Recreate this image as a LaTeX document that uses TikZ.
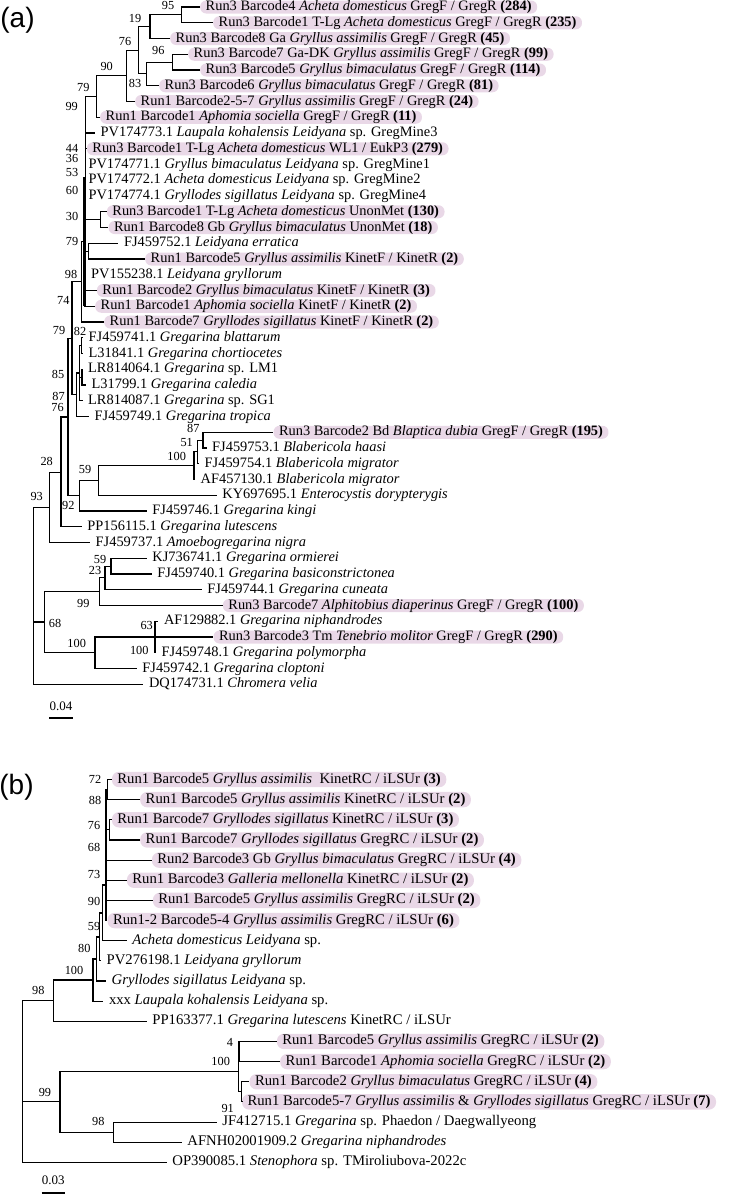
\documentclass[tikz,border=0pt]{standalone}
\usepackage{fontspec}
\setmainfont{Liberation Serif}
\newfontfamily\panelfont{Liberation Sans}
\usepackage{tikz}
\definecolor{hlpink}{RGB}{233,216,231}

\begin{document}
\begin{tikzpicture}[x=1pt,y=-1pt,
  branch/.style={line width=1.1pt},
  comb/.style={line width=2.6pt},
  leaf/.style={anchor=west,inner xsep=5.5pt,inner ysep=0pt,text height=10pt,text depth=3pt,font=\fontsize{14.4}{16}\selectfont},
  hl/.style={leaf,fill=hlpink,rounded corners=6pt},
  leafb/.style={leaf,inner ysep=0.6pt,text height=10.6pt,text depth=3.6pt,font=\fontsize{14.7}{17}\selectfont},
  hlb/.style={leafb,fill=hlpink,rounded corners=7pt},
  bs/.style={inner sep=0pt,font=\fontsize{12.3}{13}\selectfont},
  scl/.style={inner sep=0pt,font=\fontsize{13}{14}\selectfont},
  panel/.style={inner sep=0pt,font=\panelfont\fontsize{28}{30}\selectfont}]
  \useasboundingbox (0,0) rectangle (734,1195);

  \node[panel] (pa) at (17.5,20) {(a)};
  \node[panel] (pb) at (16.5,787) {(b)};

  \node[hl] (a1) at (200,7) {Run3 Barcode4 \textit{Acheta domesticus} GregF / GregR \textbf{(284)}};
  \node[hl] (a2) at (213,22.75) {Run3 Barcode1 T-Lg \textit{Acheta domesticus} GregF / GregR \textbf{(235)}};
  \node[hl] (a3) at (170,38.5) {Run3 Barcode8 Ga \textit{Gryllus assimilis} GregF / GregR \textbf{(45)}};
  \node[hl] (a4) at (188,54.25) {Run3 Barcode7 Ga-DK \textit{Gryllus assimilis} GregF / GregR \textbf{(99)}};
  \node[hl] (a5) at (200,70) {Run3 Barcode5 \textit{Gryllus bimaculatus} GregF / GregR \textbf{(114)}};
  \node[hl] (a6) at (159,85.75) {Run3 Barcode6 \textit{Gryllus bimaculatus} GregF / GregR \textbf{(81)}};
  \node[hl] (a7) at (135,101.5) {Run1 Barcode2-5-7 \textit{Gryllus assimilis} GregF / GregR \textbf{(24)}};
  \node[hl] (a8) at (100,117.25) {Run1 Barcode1 \textit{Aphomia sociella} GregF / GregR \textbf{(11)}};
  \node[leaf] (a9) at (95,133) {PV174773.1 \textit{Laupala kohalensis Leidyana} sp. GregMine3};
  \node[hl] (a10) at (86.7,148.75) {Run3 Barcode1 T-Lg \textit{Acheta domesticus} WL1 / EukP3 \textbf{(279)}};
  \node[leaf,inner xsep=2.6pt] (a11) at (85.7,164.5) {PV174771.1 \textit{Gryllus bimaculatus Leidyana} sp. GregMine1};
  \node[leaf,inner xsep=2.6pt] (a12) at (85.7,180.25) {PV174772.1 \textit{Acheta domesticus Leidyana} sp. GregMine2};
  \node[leaf,inner xsep=2.6pt] (a13) at (85.7,196) {PV174774.1 \textit{Gryllodes sigillatus Leidyana} sp. GregMine4};
  \node[hl] (a14) at (106.7,211.75) {Run3 Barcode1 T-Lg \textit{Acheta domesticus} UnonMet \textbf{(130)}};
  \node[hl] (a15) at (108.3,227.5) {Run1 Barcode8 Gb \textit{Gryllus bimaculatus} UnonMet \textbf{(18)}};
  \node[leaf] (a16) at (118.3,243.25) {FJ459752.1 \textit{Leidyana erratica}};
  \node[hl] (a17) at (145,259) {Run1 Barcode5 \textit{Gryllus assimilis} KinetF / KinetR \textbf{(2)}};
  \node[leaf] (a18) at (85.5,274.75) {PV155238.1 \textit{Leidyana gryllorum}};
  \node[hl] (a19) at (96.7,290.5) {Run1 Barcode2 \textit{Gryllus bimaculatus} KinetF / KinetR \textbf{(3)}};
  \node[hl] (a20) at (95,306.25) {Run1 Barcode1 \textit{Aphomia sociella} KinetF / KinetR \textbf{(2)}};
  \node[hl] (a21) at (104,322) {Run1 Barcode7 \textit{Gryllodes sigillatus} KinetF / KinetR \textbf{(2)}};
  \node[leaf] (a22) at (83,337.75) {FJ459741.1 \textit{Gregarina blattarum}};
  \node[leaf] (a23) at (83,353.5) {L31841.1 \textit{Gregarina chortiocetes}};
  \node[leaf] (a24) at (82.5,369.25) {LR814064.1 \textit{Gregarina} sp. LM1};
  \node[leaf] (a25) at (86,385) {L31799.1 \textit{Gregarina caledia}};
  \node[leaf] (a26) at (82.5,400.75) {LR814087.1 \textit{Gregarina} sp. SG1};
  \node[leaf] (a27) at (89,416.5) {FJ459749.1 \textit{Gregarina tropica}};
  \node[hl] (a28) at (273.3,432.25) {Run3 Barcode2 Bd \textit{Blaptica dubia} GregF / GregR \textbf{(195)}};
  \node[leaf] (a29) at (206.5,448) {FJ459753.1 \textit{Blabericola haasi}};
  \node[leaf] (a30) at (199,463.75) {FJ459754.1 \textit{Blabericola migrator}};
  \node[leaf] (a31) at (195,479.5) {AF457130.1 \textit{Blabericola migrator}};
  \node[leaf] (a32) at (216.7,495.25) {KY697695.1 \textit{Enterocystis dorypterygis}};
  \node[leaf] (a33) at (146.7,511) {FJ459746.1 \textit{Gregarina kingi}};
  \node[leaf] (a34) at (81.7,526.75) {PP156115.1 \textit{Gregarina lutescens}};
  \node[leaf] (a35) at (90,542.5) {FJ459737.1 \textit{Amoebogregarina nigra}};
  \node[leaf] (a36) at (146.7,558.25) {KJ736741.1 \textit{Gregarina ormierei}};
  \node[leaf] (a37) at (151.7,574) {FJ459740.1 \textit{Gregarina basiconstrictonea}};
  \node[leaf] (a38) at (201.7,589.75) {FJ459744.1 \textit{Gregarina cuneata}};
  \node[hl] (a39) at (222.7,605.5) {Run3 Barcode7 \textit{Alphitobius diaperinus} GregF / GregR \textbf{(100)}};
  \node[leaf] (a40) at (158.3,621.25) {AF129882.1 \textit{Gregarina niphandrodes}};
  \node[hl] (a41) at (213.3,637) {Run3 Barcode3 Tm \textit{Tenebrio molitor} GregF / GregR \textbf{(290)}};
  \node[leaf] (a42) at (156,652.75) {FJ459748.1 \textit{Gregarina polymorpha}};
  \node[leaf] (a43) at (136.7,668.5) {FJ459742.1 \textit{Gregarina cloptoni}};
  \node[leaf] (a44) at (143.3,684.25) {DQ174731.1 \textit{Chromera velia}};

  \coordinate (n95) at (181.7,14.9);
  \coordinate (n19) at (150,26.7);
  \coordinate (n96) at (172.7,62.1);
  \coordinate (n83) at (146.7,73.9);
  \coordinate (n76) at (138.3,50.3);
  \coordinate (n90) at (126.7,75.9);
  \coordinate (n79a) at (96.7,96.6);
  \coordinate (n99) at (85.7,114.8);
  \coordinate (n30) at (100.7,219.6);
  \coordinate (n79b) at (88.3,251.1);
  \coordinate (n1920) at (85,298.4);
  \coordinate (nL) at (85.2,241.4);
  \coordinate (n98) at (81.7,281.7);
  \coordinate (g82) at (81.7,345.6);
  \coordinate (gsub) at (82,377.1);
  \coordinate (g85) at (79.5,373);
  \coordinate (g87) at (76.7,394.8);
  \coordinate (nA) at (72,338.2);
  \coordinate (n87) at (203,440.1);
  \coordinate (n51) at (197.5,451.9);
  \coordinate (n100b) at (194,465.7);
  \coordinate (n59) at (98.3,480.5);
  \coordinate (n92) at (79.3,495.7);
  \coordinate (nX) at (68,417);
  \coordinate (n28) at (61,472.3);
  \coordinate (n93) at (49.3,507.2);
  \coordinate (root) at (33.3,600);
  \coordinate (n68) at (44.3,622);
  \coordinate (n99c) at (99.3,591.7);
  \coordinate (n23) at (105,577.9);
  \coordinate (n59b) at (111,566.1);
  \coordinate (n100c) at (95,652.75);
  \coordinate (n100d) at (155,637);
  \coordinate (cb1) at (84,177);
  \coordinate (cb2) at (84,306);

  \draw[branch] (n95) |- (a1.west) (n95) |- (a2.west);
  \draw[branch] (n19) |- (n95) (n19) |- (a3.west);
  \draw[branch] (n96) |- (a4.west) (n96) |- (a5.west);
  \draw[branch] (n83) |- (n96) (n83) |- (a6.west);
  \draw[branch] (n76) |- (n19) (n76) |- (n83);
  \draw[branch] (n90) |- (n76) (n90) |- (a7.west);
  \draw[branch] (n79a) |- (n90) (n79a) |- (a8.west);
  \draw[branch] (n99) |- (n79a) (n99) |- (a9.west);
  \draw[branch] (n30) |- (a14.west) (n30) |- (a15.west);
  \draw[branch] (n79b) |- (a16.west) (n79b) |- (a17.west);
  \draw[branch] (n1920) |- (a19.west) (n1920) |- (a20.west);
  \draw[branch] (nL) |- (n99) (nL) |- (a10.west) (nL) |- (a11.west) (nL) |- (a12.west) (nL) |- (a13.west);
  \draw[branch] (nL) |- (n30) (nL) |- (n79b) (nL) |- (a18.west) (nL) |- (n1920);
  \draw[comb] (cb1) -- (cb2);
  \draw[branch] (n98) |- (nL) (n98) |- (a21.west);
  \draw[branch] (g82) |- (a22.west) (g82) |- (a23.west);
  \draw[branch] (gsub) |- (a24.west) (gsub) |- (a25.west);
  \draw[branch] (g85) |- (g82) (g85) |- (gsub) (g85) |- (a26.west);
  \draw[branch] (g87) |- (g85) (g87) |- (a27.west);
  \draw[branch] (nA) |- (n98) (nA) |- (g87);
  \draw[branch] (n87) |- (a28.west) (n87) |- (a29.west);
  \draw[branch] (n51) |- (n87) (n51) |- (a30.west);
  \draw[branch] (n100b) |- (n51) (n100b) |- (a31.west);
  \draw[branch] (n59) |- (n100b) (n59) |- (a32.west);
  \draw[branch] (n92) |- (n59) (n92) |- (a33.west);
  \draw[branch] (nX) |- (nA) (nX) |- (n92);
  \draw[branch] (n28) |- (nX) (n28) |- (a34.west);
  \draw[branch] (n93) |- (n28) (n93) |- (a35.west);
  \draw[branch] (root) |- (n93) (root) |- (n68) (root) |- (a44.west);
  \draw[branch] (n68) |- (n99c) (n68) |- (n100c);
  \draw[branch] (n99c) |- (n23) (n99c) |- (a39.west);
  \draw[branch] (n23) |- (n59b) (n23) |- (a38.west);
  \draw[branch] (n59b) |- (a36.west) (n59b) |- (a37.west);
  \draw[branch] (n100c) |- (n100d) (n100c) |- (a43.west);
  \draw[branch] (n100d) |- (a40.west) (n100d) |- (a41.west) (n100d) |- (a42.west);

  \foreach \x/\y/\v [count=\i] in {168/5/95, 135/18/19, 125/41.7/76, 158.3/50/96, 106.7/66.7/90,
      135/83.3/83, 83.3/87.3/79, 71.7/106/99, 72/148.3/44, 72/158.3/36, 72/172.7/53, 72/190/60,
      72/216/30, 72/241.7/79, 71/274/98, 63.3/300/74, 59/330/79, 80/331/82, 58/374/85,
      58.5/396/87, 57.5/407.5/76, 193.3/428.3/87, 186.7/442.7/51, 176.7/456.7/100,
      46.7/461.7/28, 85/469.3/59, 36.7/496.7/93, 68.3/505/92, 100/559.8/59, 95/570.8/23,
      83.3/603.3/99, 55/623.3/68, 146.7/625/63, 76.7/643.3/100, 139.3/650/100}
    \node[bs] (bsa\i) at (\x,\y) {\v};

  \coordinate (sa1) at (49.3,718);
  \coordinate (sa2) at (72.7,718);
  \draw[branch] (sa1) -- (sa2);
  \node[scl] (sal) at (61,706.5) {0.04};

  \node[hlb] (b1) at (111.7,779.5) {Run1 Barcode5 \textit{Gryllus assimilis}\ \ KinetRC / iLSUr \textbf{(3)}};
  \node[hlb] (b2) at (140,799.65) {Run1 Barcode5 \textit{Gryllus assimilis} KinetRC / iLSUr \textbf{(2)}};
  \node[hlb] (b3) at (111.7,819.8) {Run1 Barcode7 \textit{Gryllodes sigillatus} KinetRC / iLSUr \textbf{(3)}};
  \node[hlb] (b4) at (140,839.95) {Run1 Barcode7 \textit{Gryllodes sigillatus} GregRC / iLSUr \textbf{(2)}};
  \node[hlb] (b5) at (151.7,860.1) {Run2 Barcode3 Gb \textit{Gryllus bimaculatus} GregRC / iLSUr \textbf{(4)}};
  \node[hlb] (b6) at (126.7,880.25) {Run1 Barcode3 \textit{Galleria mellonella} KinetRC / iLSUr \textbf{(2)}};
  \node[hlb] (b7) at (152.7,900.4) {Run1 Barcode5 \textit{Gryllus assimilis} GregRC / iLSUr \textbf{(2)}};
  \node[hlb] (b8) at (107.3,920.55) {Run1-2 Barcode5-4 \textit{Gryllus assimilis} GregRC / iLSUr \textbf{(6)}};
  \node[leafb] (b9) at (126.7,940.7) {\textit{Acheta domesticus Leidyana} sp.};
  \node[leafb] (b10) at (101,960.85) {PV276198.1 \textit{Leidyana gryllorum}};
  \node[leafb] (b11) at (106,981) {\textit{Gryllodes sigillatus Leidyana} sp.};
  \node[leafb] (b12) at (103.3,1001.15) {xxx \textit{Laupala kohalensis Leidyana} sp.};
  \node[leafb] (b13) at (146.7,1021.3) {PP163377.1 \textit{Gregarina lutescens} KinetRC / iLSUr};
  \node[hlb] (b14) at (276.7,1041.45) {Run1 Barcode5 \textit{Gryllus assimilis} GregRC / iLSUr \textbf{(2)}};
  \node[hlb] (b15) at (280,1061.6) {Run1 Barcode1 \textit{Aphomia sociella} GregRC / iLSUr \textbf{(2)}};
  \node[hlb] (b16) at (249.3,1081.75) {Run1 Barcode2 \textit{Gryllus bimaculatus} GregRC / iLSUr \textbf{(4)}};
  \node[hlb] (b17) at (241.8,1101.9) {Run1 Barcode5-7 \textit{Gryllus assimilis} \& \textit{Gryllodes sigillatus} GregRC / iLSUr \textbf{(7)}};
  \node[leafb] (b18) at (216.7,1122.05) {JF412715.1 \textit{Gregarina} sp. Phaedon / Daegwallyeong};
  \node[leafb] (b19) at (181.7,1142.2) {AFNH02001909.2 \textit{Gregarina niphandrodes}};
  \node[leafb] (b20) at (166.7,1162.35) {OP390085.1 \textit{Stenophora} sp. TMiroliubova-2022c};

  \coordinate (m72) at (107.5,789.6);
  \coordinate (m76) at (109.3,829.9);
  \coordinate (mq1) at (106,885);
  \coordinate (mq2) at (102.5,913);
  \coordinate (mq3) at (99.5,937);
  \coordinate (mq4) at (96.5,959);
  \coordinate (mq5) at (93,980);
  \coordinate (m98) at (53.3,1000.7);
  \coordinate (m4) at (239,1051.5);
  \coordinate (m91) at (241.5,1091.8);
  \coordinate (m100) at (238.3,1071.7);
  \coordinate (m98c) at (113.3,1132.1);
  \coordinate (m99) at (60,1101.9);
  \coordinate (rootb) at (22.7,1080);

  \draw[branch] (m72) |- (b1.west) (m72) |- (b2.west);
  \draw[branch] (m76) |- (b3.west) (m76) |- (b4.west);
  \draw[branch] (mq1) |- (m72) (mq1) |- (m76) (mq1) |- (b5.west) (mq1) |- (b6.west) (mq1) |- (b7.west) (mq1) |- (b8.west);
  \draw[branch] (mq2) |- (mq1) (mq2) |- (b9.west);
  \draw[branch] (mq3) |- (mq2) (mq3) |- (b10.west);
  \draw[branch] (mq4) |- (mq3) (mq4) |- (b11.west);
  \draw[branch] (mq5) |- (mq4) (mq5) |- (b12.west);
  \draw[branch] (m98) |- (mq5) (m98) |- (b13.west);
  \draw[branch] (m4) |- (b14.west) (m4) |- (b15.west);
  \draw[branch] (m91) |- (b16.west) (m91) |- (b17.west);
  \draw[branch] (m100) |- (m4) (m100) |- (m91);
  \draw[branch] (m98c) |- (b18.west) (m98c) |- (b19.west);
  \draw[branch] (m99) |- (m100) (m99) |- (m98c);
  \draw[branch] (rootb) |- (m98) (rootb) |- (m99) (rootb) |- (b20.west);

  \foreach \x/\y/\v [count=\i] in {95/779.3/72, 95/800/88, 94/825/76, 94/847.3/68, 94/874.3/73,
      94/901.3/90, 94/926.7/59, 84.3/948.3/80, 74/970/100, 38.3/990/98, 230/1042.7/4,
      220.7/1061/100, 227.7/1108.3/91, 45/1092.7/99, 98.3/1121.7/98}
    \node[bs] (bsb\i) at (\x,\y) {\v};

  \coordinate (sb1) at (41.7,1193);
  \coordinate (sb2) at (65,1193);
  \draw[branch] (sb1) -- (sb2);
  \node[scl] (sbl) at (53.3,1180) {0.03};
\end{tikzpicture}
\end{document}
